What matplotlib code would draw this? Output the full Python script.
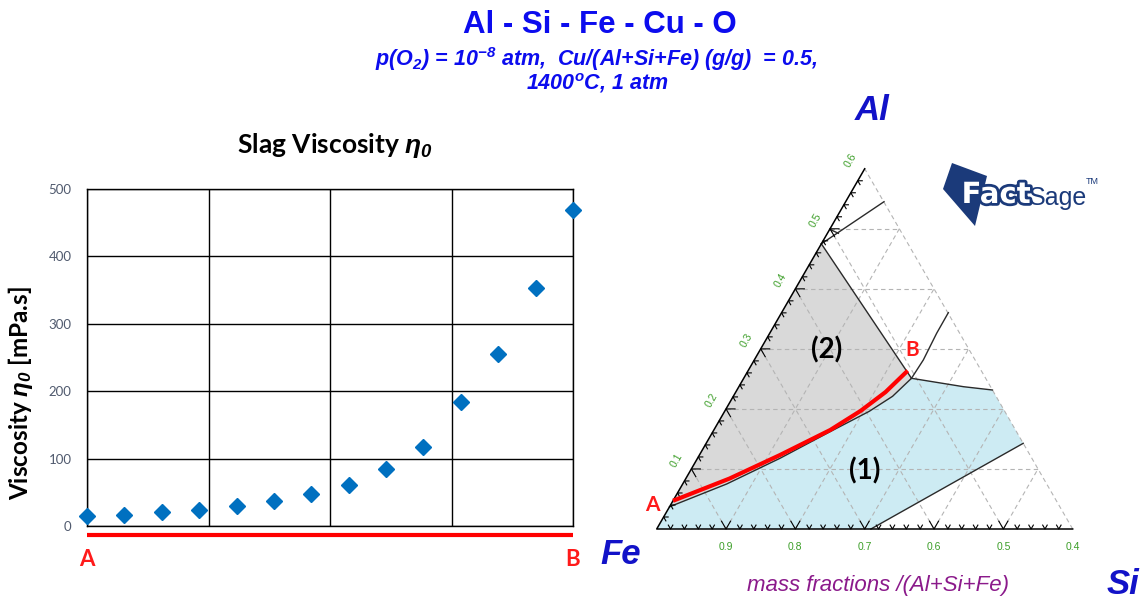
import numpy as np
import matplotlib
matplotlib.use("Agg")
import matplotlib.pyplot as plt
import matplotlib.patches as patches
import matplotlib.patheffects as pe

plt.rcParams['mathtext.fontset'] = 'custom'
plt.rcParams['mathtext.rm'] = 'Liberation Sans:italic:bold'
plt.rcParams['mathtext.it'] = 'Liberation Sans:italic:bold'
plt.rcParams['mathtext.bf'] = 'Liberation Sans:italic:bold'

# viscosity along the A -> B path (14 equally spaced compositions)
step = [0, 1, 2, 3, 4, 5, 6, 7, 8, 9, 10, 11, 12, 13]
viscosity = [15, 17, 21, 24, 29, 37, 48, 61, 85, 117, 184, 255, 353, 469]
visc_ticks = [0, 100, 200, 300, 400, 500]

# ternary section, compositions given as (Si, Al) mass fractions
fe_labels = [0.9, 0.8, 0.7, 0.6, 0.5, 0.4]
al_labels = [0.1, 0.2, 0.3, 0.4, 0.5, 0.6]
path_si = [0.0, 0.063, 0.116, 0.168, 0.196, 0.216, 0.2302]
path_al = [0.047, 0.084, 0.123, 0.165, 0.197, 0.228, 0.2637]
lower_si = [0.0, 0.0635, 0.119, 0.169, 0.2086, 0.2297, 0.242]
lower_al = [0.037, 0.075, 0.1178, 0.162, 0.196, 0.221, 0.251]
top_si, top_al = 0.0, 0.475
ridge_si = [0.242, 0.324, 0.3685]
ridge_al = [0.251, 0.237, 0.2315]
cut_si = [0.4573, 0.309]
cut_al = [0.1427, 0.0]
up_si = [0.242, 0.2438, 0.2408, 0.2405]
up_al = [0.251, 0.2815, 0.326, 0.3603]
high_si = [0.0, 0.0553]
high_al = [0.475, 0.5451]
kink_si = [0.0, 0.0158]
kink_al = [0.4992, 0.4925]

W, H = 1141, 600
fig = plt.figure(figsize=(W / 100, H / 100), dpi=100)
fig.patch.set_facecolor('white')


def ftext(x, y, s, **kw):
    return fig.text(x / W, 1 - y / H, s, **kw)


def to_xy(si, al):
    si = np.asarray(si, float)
    al = np.asarray(al, float)
    return si + al / 2, al * np.sqrt(3) / 2


TITLE_BLUE = '#0c0cee'
VERT_BLUE = '#1212c8'

# ---- headings
ftext(600, 25, 'Al - Si - Fe - Cu - O', ha='center', va='center',
      fontsize=22.5, fontweight='bold', family='Liberation Sans', color=TITLE_BLUE)
ftext(596, 59, r'p(O$_2$) = 10$^{-8}$ atm,  Cu/(Al+Si+Fe) (g/g)  = 0.5,',
      ha='center', va='center', fontsize=15.5, fontweight='bold', style='italic',
      family='Liberation Sans', color=TITLE_BLUE)
ftext(597, 83, r'1400$^{o}$C, 1 atm', ha='center', va='center', fontsize=15.5,
      fontweight='bold', style='italic', family='Liberation Sans', color=TITLE_BLUE)

# ---- viscosity panel
ax = fig.add_axes([87 / W, 1 - 526 / H, (573 - 87) / W, (526 - 189) / H])
ax.set_xlim(step[0], step[-1])
ax.set_ylim(visc_ticks[0], visc_ticks[-1])
ax.set_xticks(np.linspace(step[0], step[-1], 5))
ax.set_xticklabels([])
ax.set_yticks(visc_ticks)
ax.grid(True, color='black', lw=1)
ax.set_axisbelow(True)
for sp in ax.spines.values():
    sp.set_color('black')
    sp.set_linewidth(1)
ax.tick_params(length=0, pad=11, labelsize=9.5, labelcolor='#505a6e')
for lb in ax.get_yticklabels():
    lb.set_family('Lato')
ax.plot(step, viscosity, 'D', color='#0070c0', ms=8.5, mec='#0070c0',
        clip_on=False, zorder=3)
ax.set_ylabel(r'Viscosity $\eta_0$ [mPa.s]', fontsize=17.5, fontweight='bold',
              family='Lato')
ax.yaxis.set_label_coords(-0.108, 0.395)
xt = ax.get_xaxis_transform()
ax.plot([step[0], step[-1]], [-0.027, -0.027], color='#ff0000', lw=3,
        transform=xt, clip_on=False, solid_capstyle='butt')
ax.text(step[0], -0.10, 'A', transform=xt, ha='center', va='center',
        fontsize=16, fontweight='bold', family='Lato', color='#ff1a1a')
ax.text(step[-1], -0.10, 'B', transform=xt, ha='center', va='center',
        fontsize=16, fontweight='bold', family='Lato', color='#ff1a1a')
ftext(335, 145, r'Slag Viscosity $\eta_0$', ha='center', va='center',
      fontsize=19, fontweight='bold', family='Lato')

# ---- ternary section
SC = 693.3  # pixels per unit mass fraction
ox, oy = 656.7, 529.0
tax = fig.add_axes([600 / W, 0, 541 / W, 500 / H])
tax.set_xlim((600 - ox) / SC, (1141 - ox) / SC)
tax.set_ylim((oy - 600) / SC, (oy - 100) / SC)
tax.axis('off')

# phase fields
gx, gy = to_xy(lower_si + [top_si, 0.0], lower_al + [top_al, lower_al[0]])
tax.add_patch(patches.Polygon(np.column_stack([gx, gy]), closed=True,
                              fc='#d9d9d9', ec='none', zorder=1))
bsi = [0.0] + lower_si + ridge_si[1:] + cut_si + [0.0]
bal = [lower_al[0]] + lower_al + ridge_al[1:] + cut_al + [0.0]
bx, by = to_xy(bsi, bal)
tax.add_patch(patches.Polygon(np.column_stack([bx, by]), closed=True,
                              fc='#cdebf3', ec='none', zorder=1))

# dashed composition grid
gkw = dict(color='#b4b4b4', lw=0.8, ls=(0, (4, 3)), zorder=2)
for v in [0.1, 0.2, 0.3, 0.4, 0.5]:
    tax.plot(*to_xy([0, 0.6 - v], [v, v]), **gkw)       # constant Al
    tax.plot(*to_xy([v, v], [0, 0.6 - v]), **gkw)       # constant Si
for f in [0.9, 0.8, 0.7, 0.6, 0.5]:
    t = 1 - f
    tax.plot(*to_xy([t, 0], [0, t]), **gkw)             # constant Fe
tax.plot(*to_xy([0.6, 0], [0, 0.6]), **gkw)

# solid frame (Fe-Al and Fe-Si edges)
tax.plot(*to_xy([0.6, 0, 0], [0, 0, 0.6]), color='black', lw=1.1, zorder=4)

# tick marks
h = np.sqrt(3) / 2
for k in range(1, 30):
    v = k * 0.02
    L = 0.013 if k % 5 == 0 else 0.0065
    bx0, by0 = to_xy(v, 0)
    tax.plot([bx0 - L / 2, bx0, bx0 + L / 2], [by0 + L * h, by0, by0 + L * h],
             color='black', lw=0.8, zorder=4)
    lx0, ly0 = to_xy(0, v)
    tax.plot([lx0 + L, lx0, lx0 + L / 2], [ly0, ly0, ly0 - L * h],
             color='black', lw=0.8, zorder=4)

GREEN = '#3c9e28'
for fe in fe_labels:
    x0, _ = to_xy(1 - fe, 0)
    tax.text(x0, -0.026, f'{fe:.1f}', ha='center', va='center', fontsize=7.5,
             color=GREEN, family='Liberation Sans')
for al in al_labels:
    x0, y0 = to_xy(0, al)
    tax.text(x0 - 0.021, y0 + 0.012, f'{al:.1f}', ha='center', va='center',
             fontsize=7.5, color=GREEN, rotation=60, family='Liberation Sans')

# phase boundaries
lkw = dict(color='#2a2a2a', lw=1.0, zorder=3)
tax.plot(*to_xy(lower_si, lower_al), **lkw)
tax.plot(*to_xy([lower_si[-1], top_si], [lower_al[-1], top_al]), **lkw)
tax.plot(*to_xy(ridge_si, ridge_al), **lkw)
tax.plot(*to_xy(cut_si, cut_al), **lkw)
tax.plot(*to_xy(up_si, up_al), **lkw)
tax.plot(*to_xy(high_si, high_al), **lkw)
tax.plot(*to_xy(kink_si, kink_al), **lkw)

# A -> B path
tax.plot(*to_xy(path_si, path_al), color='#ff0000', lw=3, zorder=5,
         solid_capstyle='butt', solid_joinstyle='round')

ftext(827, 350, '(2)', ha='center', va='center', fontsize=20,
      fontweight='bold', family='Lato')
ftext(865, 471, '(1)', ha='center', va='center', fontsize=20,
      fontweight='bold', family='Lato')
ftext(912, 350, 'B', ha='center', va='center', fontsize=15,
      fontweight='bold', family='Lato', color='#ff1a1a')
ftext(652, 505, 'A', ha='center', va='center', fontsize=15,
      fontweight='bold', family='Lato', color='#ff1a1a')

# corner labels
vkw = dict(ha='center', va='center', fontsize=25, fontweight='bold',
           style='italic', family='Liberation Sans', color=VERT_BLUE)
ftext(872, 110, 'Al', **vkw)
ftext(621, 555, 'Fe', **vkw)
ftext(1123, 585, 'Si', **vkw)
ftext(878, 586, 'mass fractions /(Al+Si+Fe)', ha='center', va='center',
      fontsize=16, style='italic', family='Liberation Sans', color='#8b1a8b')

# FactSage logo
NAVY = '#1b3a7a'
sq = [(952, 163), (987, 176), (975, 226), (943, 189)]
fig.patches.append(patches.Polygon([(x / W, 1 - y / H) for x, y in sq],
                                   closed=True, fc=NAVY, ec='none',
                                   transform=fig.transFigure, figure=fig))
ftext(996, 203, 'Fact', ha='center', va='baseline', fontsize=21,
      fontweight='heavy', family='DejaVu Sans', color='white',
      path_effects=[pe.withStroke(linewidth=4, foreground=NAVY)])
ftext(1058, 205, 'Sage', ha='center', va='baseline', fontsize=18,
      family='Liberation Sans', color=NAVY)
ftext(1092, 182, 'TM', ha='center', va='center', fontsize=6.5,
      family='Liberation Sans', color=NAVY)

fig.savefig('out.png', dpi=100)
